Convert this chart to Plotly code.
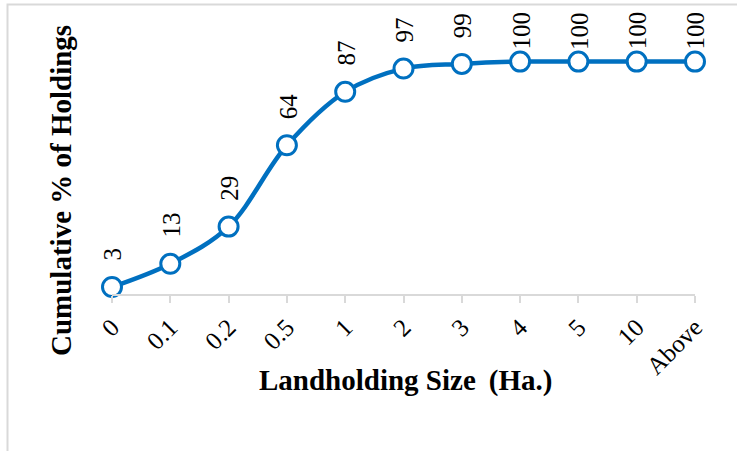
import plotly.graph_objects as go

# Cumulative share of holdings by landholding size class
sizes = ["0", "0.1", "0.2", "0.5", "1", "2", "3", "4", "5", "10", "Above"]
cum_pct = [3, 13, 29, 64, 87, 97, 99, 100, 100, 100, 100]

x_title = "Landholding Size \u2009(Ha.)"
y_title = "Cumulative % of Holdings"

# Canvas and plot-area geometry (pixels)
W, H = 737, 451
M = dict(l=112, r=42, t=50, b=157)
PLOT_W = W - M["l"] - M["r"]
PLOT_H = H - M["t"] - M["b"]
Y_MAX = 105

BLUE = "#0070C0"
GREY = "#D9D9D9"
SERIF = "Liberation Serif, Times New Roman, serif"
LABEL_SIZE = 25
TITLE_SIZE = 29


def px_from_value(v):
    """Vertical pixel position of a data value."""
    return M["t"] + PLOT_H * (1 - v / Y_MAX)


def px_to_paper_x(px):
    return (px - M["l"]) / PLOT_W


def px_to_paper_y(py):
    return (M["t"] + PLOT_H - py) / PLOT_H


fig = go.Figure(
    go.Scatter(
        x=sizes,
        y=cum_pct,
        mode="lines+markers",
        line=dict(color=BLUE, width=4.5, shape="spline", smoothing=1),
        marker=dict(size=19, color="white", line=dict(color=BLUE, width=3)),
        cliponaxis=False,
        hoverinfo="skip",
    )
)

# Vertical value labels above each point; labels that would run past the
# top of the chart area are nudged down towards their marker.
annotations = []
top_limit = 12
for i, val in enumerate(cum_pct):
    text = str(val)
    label_len = len(text) * 0.5 * LABEL_SIZE + 2
    marker_px = px_from_value(val)
    shift = min(24, marker_px - top_limit - label_len)
    annotations.append(
        dict(
            x=i, y=val, xref="x", yref="y",
            text=text, showarrow=False, textangle=-90,
            xanchor="center", yanchor="bottom", yshift=shift, xshift=1,
            font=dict(family=SERIF, size=LABEL_SIZE, color="black"),
        )
    )

# Axis titles
annotations.append(
    dict(
        text=f"<b>{y_title}</b>", showarrow=False, textangle=-90,
        xref="paper", yref="paper",
        x=px_to_paper_x(61), y=px_to_paper_y(191),
        xanchor="center", yanchor="middle",
        font=dict(family=SERIF, size=TITLE_SIZE, color="black"),
    )
)
annotations.append(
    dict(
        text=f"<b>{x_title}</b>", showarrow=False,
        xref="paper", yref="paper",
        x=px_to_paper_x(405), y=px_to_paper_y(380),
        xanchor="center", yanchor="middle",
        font=dict(family=SERIF, size=TITLE_SIZE, color="black"),
    )
)

fig.update_layout(
    width=W, height=H, autosize=False,
    margin=M,
    paper_bgcolor="white", plot_bgcolor="white",
    showlegend=False,
    annotations=annotations,
    shapes=[
        # chart-area frame (left and top edges visible)
        dict(
            type="rect", xref="paper", yref="paper",
            x0=px_to_paper_x(7.5), x1=3,
            y0=-3, y1=px_to_paper_y(4.5),
            line=dict(color=GREY, width=2), fillcolor="rgba(0,0,0,0)",
            layer="below",
        )
    ],
    xaxis=dict(
        type="category", range=[0, len(sizes) - 1],
        showline=True, linecolor=GREY, linewidth=1.5,
        ticks="outside", ticklen=7, tickcolor=GREY, tickwidth=1.5,
        tickangle=-45, showgrid=False, zeroline=False,
        tickfont=dict(family=SERIF, size=25, color="black"),
        ticklabelstandoff=0,
    ),
    yaxis=dict(
        range=[0, Y_MAX], visible=False, showgrid=False, zeroline=False,
    ),
)

fig.write_html("out.html")
